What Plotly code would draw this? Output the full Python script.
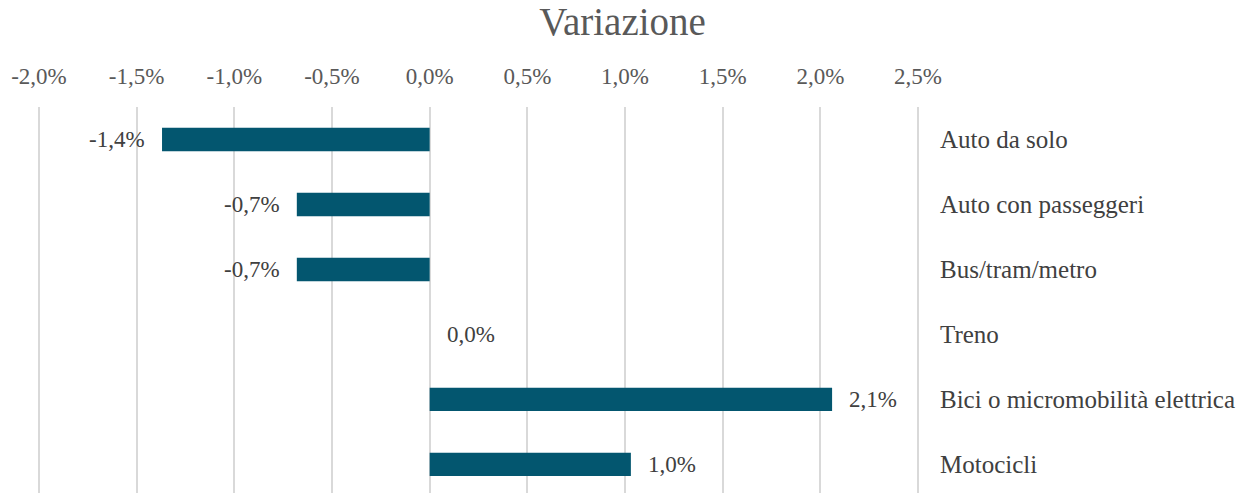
import plotly.graph_objects as go

categories = ["Auto da solo", "Auto con passeggeri", "Bus/tram/metro", "Treno",
              "Bici o micromobilità elettrica", "Motocicli"]
values = [-1.37, -0.68, -0.68, 0.0, 2.06, 1.03]
value_labels = ["-1,4%", "-0,7%", "-0,7%", "0,0%", "2,1%", "1,0%"]
tick_values = [-2.0, -1.5, -1.0, -0.5, 0.0, 0.5, 1.0, 1.5, 2.0, 2.5]
tick_labels = ["-2,0%", "-1,5%", "-1,0%", "-0,5%", "0,0%", "0,5%", "1,0%", "1,5%", "2,0%", "2,5%"]
title_text = "Variazione"

FONT = "Liberation Serif"
BAR = "#03566f"

fig = go.Figure()
fig.add_trace(go.Bar(
    x=values, y=categories, orientation="h",
    marker=dict(color=BAR, line=dict(width=0)),
    width=0.36, hoverinfo="skip",
))

for v, c, t in zip(values, categories, value_labels):
    fig.add_annotation(
        x=v, y=c, text=t, showarrow=False,
        xanchor="left" if v >= 0 else "right",
        xshift=15 if v >= 0 else -15,
        font=dict(family=FONT, size=23, color="#404040"),
    )

fig.update_layout(
    width=1245, height=493,
    margin=dict(l=37, r=325, t=107, b=0),
    paper_bgcolor="white", plot_bgcolor="white",
    showlegend=False,
    title=dict(text=title_text, x=0.5, xanchor="center", y=0.957, yanchor="middle",
               font=dict(family=FONT, size=39, color="#595959")),
    xaxis=dict(
        side="top", range=[-2.01, 2.51], automargin=False,
        tickvals=tick_values, ticktext=tick_labels,
        tickfont=dict(family=FONT, size=23, color="#595959"),
        showgrid=True, gridcolor="#d9d9d9", gridwidth=1.5,
        zeroline=False, showline=False,
        ticks="outside", ticklen=13, tickcolor="rgba(0,0,0,0)",
    ),
    yaxis=dict(
        side="right", categoryorder="array", categoryarray=categories,
        range=[5.44, -0.5], autorange=False, automargin=False,
        tickfont=dict(family=FONT, size=25, color="#404040"),
        showgrid=False, zeroline=False, showline=False,
        ticks="outside", ticklen=14, tickcolor="rgba(0,0,0,0)",
    ),
)

fig.write_html("out.html", config={"displayModeBar": False},
               post_script="document.body.style.margin='0';")
